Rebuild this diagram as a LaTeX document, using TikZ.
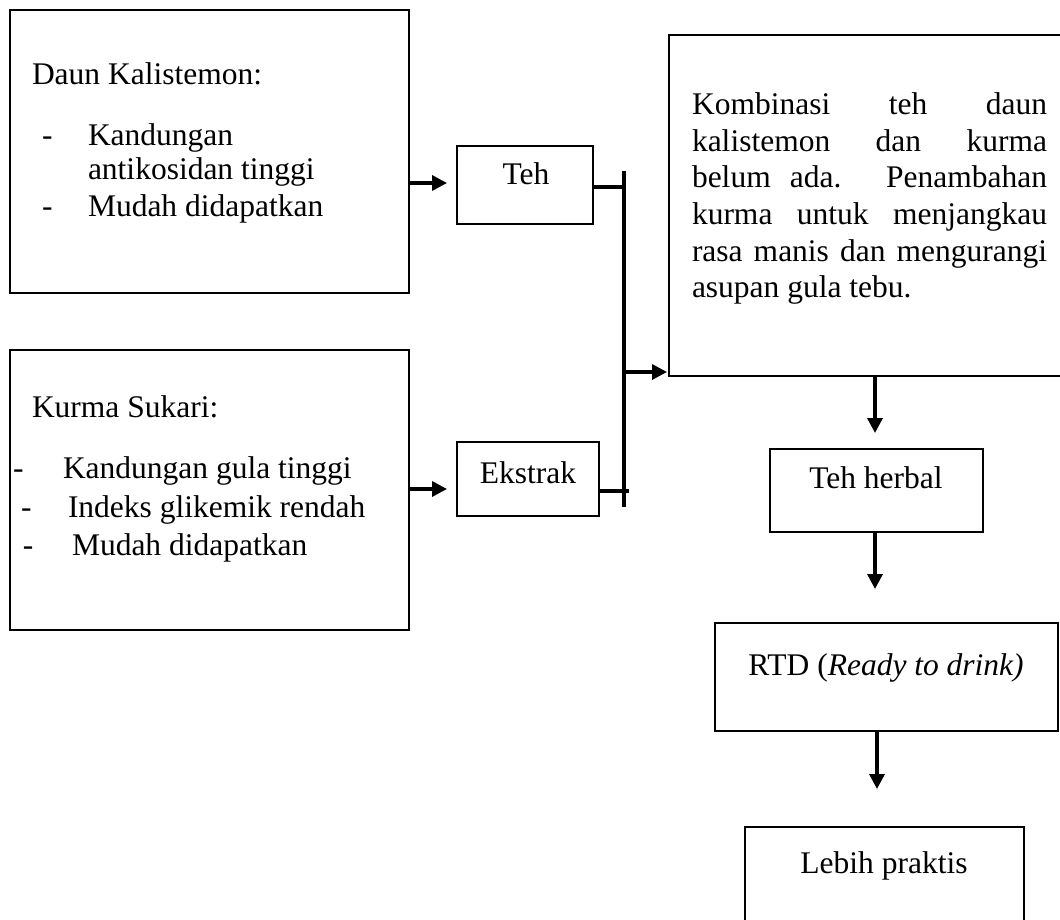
\documentclass[tikz,border=0pt]{standalone}
\usepackage{fontspec}
\setmainfont{Liberation Serif}
\usetikzlibrary{arrows.meta}
\begin{document}
\begin{tikzpicture}[x=1pt,y=-1pt,
  box/.style={draw=black, line width=2.2pt, fill=none, inner sep=0pt, outer sep=0pt, anchor=north west},
  txt/.style={inner sep=0pt, outer sep=0pt, font=\fontsize{31.5}{37}\selectfont},
  conn/.style={line width=3.4pt},
  arr/.style={line width=3.4pt, -{Triangle[length=15pt,width=15pt]}}]
\clip (0,0) rectangle (1060,920);
\fill[white] (0,0) rectangle (1060,920);
% boxes
\node[box, minimum width=399pt, minimum height=283pt] (b1) at (10,10) {};
\node[box, minimum width=399pt, minimum height=280pt] (b2) at (10,350) {};
\node[box, minimum width=136pt, minimum height=78pt] (teh) at (457,146) {};
\node[box, minimum width=142pt, minimum height=74pt] (eks) at (457,442) {};
\node[box, minimum width=410pt, minimum height=341pt] (komb) at (669,35) {};
\node[box, minimum width=213pt, minimum height=83pt] (herb) at (770,449) {};
\node[box, minimum width=343pt, minimum height=108pt] (rtd) at (715,623) {};
\node[box, minimum width=279pt, minimum height=110pt] (leb) at (745,827) {};
% box 1 text
\node[txt, anchor=base west] (t11) at (32,85) {Daun Kalistemon:};
\node[txt, anchor=base west] (d11) at (42,146) {-};
\node[txt, anchor=base west] (t12) at (88,146) {Kandungan};
\node[txt, anchor=base west] (t13) at (88,180) {antikosidan tinggi};
\node[txt, anchor=base west] (d12) at (42,217) {-};
\node[txt, anchor=base west] (t14) at (88,217) {Mudah didapatkan};
% box 2 text
\node[txt, anchor=base west] (t21) at (32,417) {Kurma Sukari:};
\node[txt, anchor=base west] (d21) at (13,478) {-};
\node[txt, anchor=base west] (t22) at (63,478) {Kandungan gula tinggi};
\node[txt, anchor=base west] (d22) at (21,517) {-};
\node[txt, anchor=base west] (t23) at (68,517) {Indeks glikemik rendah};
\node[txt, anchor=base west] (d23) at (23,555) {-};
\node[txt, anchor=base west] (t24) at (72,555) {Mudah didapatkan};
% small boxes text
\node[txt, anchor=base] (tt) at (526,185) {Teh};
\node[txt, anchor=base] (te) at (528,483) {Ekstrak};
\node[txt, anchor=base] (th) at (876,488) {Teh herbal};
\node[txt, anchor=base] (tr) at (886,675) {RTD (\textit{Ready to drink)}};
\node[txt, anchor=base] (tl) at (884,873) {Lebih praktis};
% big box text
\node[txt, anchor=base west] (k1) at (692,115) {\makebox[355pt][s]{Kombinasi teh daun}};
\node[txt, anchor=base west] (k2) at (692,152) {\makebox[355pt][s]{kalistemon dan kurma}};
\node[txt, anchor=base west] (k3) at (692,188) {\makebox[355pt][s]{belum ada. Penambahan}};
\node[txt, anchor=base west] (k4) at (692,225) {\makebox[355pt][s]{kurma untuk menjangkau}};
\node[txt, anchor=base west] (k5) at (692,261) {\makebox[355pt][s]{rasa manis dan mengurangi}};
\node[txt, anchor=base west] (k6) at (692,297) {asupan gula tebu.};
% connector coordinates
\coordinate (bartop) at (624,171);
\coordinate (barbot) at (624,507);
\coordinate (barout) at (624,372);
\coordinate (a1s) at (409,183);
\coordinate (a1e) at (447,183);
\coordinate (a2s) at (409,489);
\coordinate (a2e) at (447,489);
\coordinate (tehj) at (624,187);
\coordinate (eksj) at (629,491);
% connectors
\draw[arr] (a1s) -- (a1e);
\draw[arr] (a2s) -- (a2e);
\draw[conn] (bartop) -- (barbot);
\draw[conn] (teh.east |- tehj) -- (tehj);
\draw[conn] (eks.east |- eksj) -- (eksj);
\draw[arr] (barout) -- ([xshift=-2pt]komb.west |- barout);
\draw[arr] (875,376) -- (875,433);
\draw[arr] (875,532) -- (875,589);
\draw[arr] (877,731) -- (877,789);
\end{tikzpicture}
\end{document}
